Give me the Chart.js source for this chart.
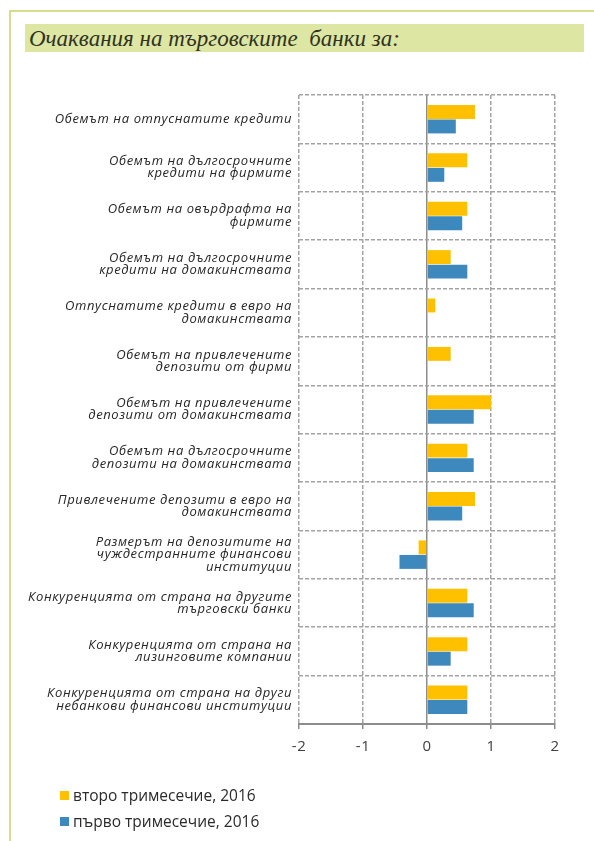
<!DOCTYPE html>
<html>
<head>
<meta charset="utf-8">
<script src="https://cdn.jsdelivr.net/npm/chart.js@4.4.0/dist/chart.umd.min.js"></script>
<style>
  html, body { margin: 0; padding: 0; background: #fff; }
  body { width: 594px; height: 841px; position: relative; overflow: hidden; }
  .frame {
    position: absolute; left: 9px; top: 10px; width: 600px; height: 850px;
    border-top: 2px solid #d6dd8f; border-left: 2px solid #d6dd8f;
  }
  .title {
    position: absolute; left: 25px; top: 24px; width: 559px; height: 28px;
    background: #dde6a2;
    font-family: "Liberation Serif", serif; font-style: italic;
    font-size: 23px; line-height: 29px; color: #2f3324; padding-left: 4px;
    box-sizing: border-box; white-space: pre;
  }
  #chart-wrap { position: absolute; left: 0; top: 0; width: 594px; height: 841px; }
  #legend { position: absolute; left: 60px; top: 785px; font-family: "Open Sans", sans-serif; font-size: 15.5px; color: #2b2b2b; }
  #legend div { height: 26px; line-height: 20px; white-space: nowrap; }
  #legend span.box { display: inline-block; width: 9px; height: 9px; margin-right: 4px; vertical-align: 1px; }
</style>
</head>
<body>
<div class="frame"></div>
<div class="title">Очаквания на търговските  банки за:</div>
<div id="chart-wrap"><canvas id="expectations-chart"></canvas></div>
<div id="legend"></div>

<script>
  // Categories (top to bottom)
  const categories = [
    'Обемът на отпуснатите кредити',
    ['Обемът на дългосрочните', 'кредити на фирмите'],
    ['Обемът на овърдрафта на', 'фирмите'],
    ['Обемът на дългосрочните', 'кредити на домакинствата'],
    ['Отпуснатите кредити в евро на', 'домакинствата'],
    ['Обемът на привлечените', 'депозити от фирми'],
    ['Обемът на привлечените', 'депозити от домакинствата'],
    ['Обемът на дългосрочните', 'депозити на домакинствата'],
    ['Привлечените депозити в евро на', 'домакинствата'],
    ['Размерът на депозитите на', 'чуждестранните финансови', 'институции'],
    ['Конкуренцията от страна на другите', 'търговски банки'],
    ['Конкуренцията от страна на', 'лизинговите компании'],
    ['Конкуренцията от страна на други', 'небанкови финансови институции']
  ];

  const seriesNames = ['второ тримесечие, 2016', 'първо тримесечие, 2016'];
  const q2Values = [0.75, 0.63, 0.63, 0.37, 0.13, 0.37, 1.0, 0.63, 0.75, -0.13, 0.63, 0.63, 0.63];
  const q1Values = [0.45, 0.27, 0.55, 0.63, 0, 0, 0.73, 0.73, 0.55, -0.43, 0.73, 0.37, 0.63];
  const xTicks = [-2, -1, 0, 1, 2];

  const colors = ['#ffc000', '#3d88bd'];

  (function() {
    const ctx = document.getElementById('expectations-chart');

    // the scanned labels are set rather loosely, widen the glyph spacing a bit
    const spacing = {
      id: 'spacing',
      beforeLayout: function(chart) { chart.ctx.letterSpacing = '0.6px'; },
      beforeDraw: function(chart) { chart.ctx.letterSpacing = '0.6px'; }
    };

    new Chart(ctx, {
      type: 'bar',
      data: {
        labels: categories,
        datasets: [
          { label: seriesNames[0], data: q2Values, backgroundColor: colors[0] },
          { label: seriesNames[1], data: q1Values, backgroundColor: colors[1] }
        ]
      },
      options: {
        indexAxis: 'y',
        responsive: true,
        maintainAspectRatio: false,
        animation: false,
        categoryPercentage: 0.6,
        barPercentage: 0.96,
        layout: { padding: { left: 0, top: 95, right: 39, bottom: 77 } },
        plugins: {
          legend: { display: false },
          tooltip: { enabled: false }
        },
        scales: {
          x: {
            min: xTicks[0],
            max: xTicks[xTicks.length - 1],
            afterBuildTicks: function(scale) {
              scale.ticks = xTicks.map(v => ({ value: v }));
            },
            afterFit: function(scale) { scale.height = 40; },
            grid: {
              color: function(c) { return c.tick && c.tick.value === 0 ? '#8c8c8c' : '#a3a3a3'; },
              lineWidth: 1.5,
              tickLength: 5,
              tickColor: '#8c8c8c',
              tickBorderDash: []
            },
            border: {
              display: true,
              color: '#8c8c8c',
              width: 2,
              dash: function(c) { return c.tick && c.tick.value === 0 ? [] : [4, 2]; }
            },
            ticks: {
              padding: 9,
              color: '#404040',
              font: { family: 'Open Sans', size: 15 }
            }
          },
          y: {
            afterFit: function(scale) { scale.width = 299; },
            grid: {
              color: '#a3a3a3',
              lineWidth: 1.5,
              drawTicks: false
            },
            border: { display: false, dash: [4, 2] },
            ticks: {
              autoSkip: false,
              padding: 7,
              color: '#262626',
              font: { family: 'Open Sans', style: 'italic', size: 13, lineHeight: 0.95 }
            }
          }
        }
      },
      plugins: [spacing]
    });

    // legend built from the series
    const legend = document.getElementById('legend');
    seriesNames.forEach(function(name, i) {
      const row = document.createElement('div');
      const box = document.createElement('span');
      box.className = 'box';
      box.style.background = colors[i];
      row.appendChild(box);
      row.appendChild(document.createTextNode(name));
      legend.appendChild(row);
    });
  })();
</script>
</body>
</html>
